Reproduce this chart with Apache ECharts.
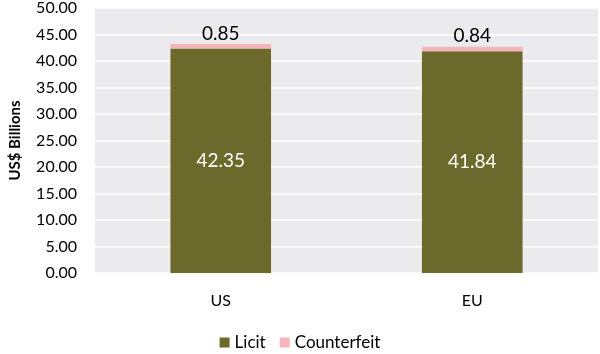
<!DOCTYPE html>
<html>
<head>
<meta charset="utf-8">
<script src="https://cdn.jsdelivr.net/npm/echarts@6/dist/echarts.min.js"></script>
<style>
  html, body { margin: 0; padding: 0; background: #fff; }
</style>
</head>
<body>
<div id="main" style="width: 600px;height:354px;"></div>
<script type="text/javascript">

    var regions = ['US', 'EU'];
    var licit = [42.35, 41.84];
    var counterfeit = [0.85, 0.84];

    var FONT = 'Lato';

    var myChart = echarts.init(document.getElementById('main'));

    var option = {
        animation: false,
        textStyle: {fontFamily: FONT},
        grid: {
            left: 91, right: 2, top: 7, bottom: 81,
            show: true,
            backgroundColor: '#ebebed',
            borderWidth: 0
        },
        legend: {
            bottom: -2,
            left: 'center',
            itemWidth: 10,
            itemHeight: 10,
            itemGap: 14,
            icon: 'rect',
            textStyle: {fontSize: 17, color: '#000', fontFamily: FONT},
            data: ['Licit', 'Counterfeit']
        },
        xAxis: {
            type: 'category',
            data: regions,
            axisLine: {show: false},
            axisTick: {show: false},
            axisLabel: {fontSize: 16, color: '#000', margin: 20}
        },
        yAxis: {
            type: 'value',
            min: 0,
            max: 50,
            interval: 5,
            name: 'US$ Billions',
            nameLocation: 'middle',
            nameGap: 72,
            nameTextStyle: {fontSize: 15, fontWeight: 'bold', color: '#000'},
            axisLine: {show: false},
            axisTick: {show: false},
            axisLabel: {
                fontSize: 16, color: '#000', margin: 18,
                formatter: function (v) { return v.toFixed(2); }
            },
            splitLine: {lineStyle: {color: '#ffffff', width: 1.5}}
        },
        series: [{
            name: 'Licit',
            type: 'bar',
            stack: 'total',
            barWidth: '40%',
            data: licit,
            itemStyle: {color: '#6b6a2b'},
            label: {
                show: true,
                position: 'inside',
                color: '#fff',
                fontSize: 19,
                formatter: function (p) { return p.value.toFixed(2); }
            }
        }, {
            name: 'Counterfeit',
            type: 'bar',
            stack: 'total',
            data: counterfeit,
            itemStyle: {color: '#f5b5bb'},
            label: {
                show: true,
                position: 'top',
                distance: 1,
                color: '#000',
                fontSize: 19,
                formatter: function (p) { return p.value.toFixed(2); }
            }
        }]
    };

    myChart.setOption(option);
</script>
</body>
</html>
